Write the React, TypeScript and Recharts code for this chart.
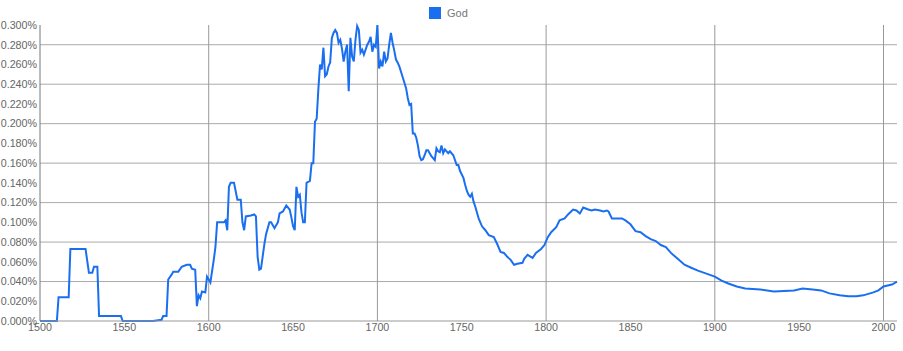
import { LineChart, Line, XAxis, YAxis, ReferenceLine } from 'recharts'

// ngram frequency of "God", in percent
const years = [
  1500, 1510, 1511, 1517, 1518, 1527, 1529, 1531, 1532, 1534, 1535, 1548, 1549, 1567, 1571, 1572, 1573, 1575,
  1576, 1578, 1579, 1582, 1584, 1587, 1589, 1590, 1592, 1593, 1594, 1595, 1596, 1598, 1599, 1600, 1601, 1603,
  1604, 1605, 1609, 1610, 1611, 1612, 1613, 1615, 1617, 1619, 1620, 1621, 1622, 1625, 1627, 1628, 1629, 1630,
  1631, 1633, 1634, 1636, 1637, 1639, 1640, 1641, 1642, 1644, 1646, 1648, 1649, 1650, 1651, 1652, 1653, 1654,
  1655, 1656, 1657, 1658, 1660, 1661, 1662, 1663, 1664, 1665, 1666, 1667, 1668, 1669, 1670, 1671, 1672, 1673,
  1674, 1675, 1676, 1677, 1678, 1679, 1680, 1681, 1682, 1683, 1684, 1685, 1686, 1687, 1688, 1689, 1690, 1691,
  1692, 1693, 1694, 1695, 1696, 1697, 1698, 1699, 1700, 1701, 1702, 1703, 1704, 1705, 1706, 1707, 1708, 1709,
  1710, 1711, 1712, 1713, 1715, 1717, 1718, 1719, 1720, 1721, 1722, 1723, 1724, 1725, 1726, 1727, 1728, 1729,
  1730, 1731, 1732, 1733, 1734, 1735, 1736, 1737, 1738, 1739, 1740, 1741, 1742, 1743, 1745, 1747, 1748, 1749,
  1751, 1752, 1753, 1754, 1755, 1756, 1757, 1758, 1760, 1762, 1764, 1766, 1769, 1771, 1773, 1775, 1777, 1779,
  1781, 1783, 1786, 1787, 1789, 1790, 1792, 1794, 1797, 1799, 1801, 1803, 1806, 1808, 1811, 1813, 1816, 1818,
  1820, 1822, 1825, 1827, 1829, 1832, 1834, 1836, 1837, 1839, 1842, 1845, 1847, 1850, 1853, 1856, 1859, 1862,
  1865, 1868, 1871, 1874, 1878, 1882, 1886, 1890, 1895, 1900, 1904, 1908, 1913, 1918, 1927, 1935, 1947, 1952,
  1958, 1963, 1968, 1974, 1979, 1984, 1988, 1994, 1997, 2000, 2005, 2008,
]
const godValues = [
  0, 0, 0.024, 0.024, 0.073, 0.073, 0.049, 0.049, 0.055, 0.055, 0.005, 0.005, 0, 0, 0.001, 0.001, 0.005, 0.005,
  0.042, 0.047, 0.05, 0.05, 0.055, 0.057, 0.057, 0.053, 0.052, 0.015, 0.026, 0.023, 0.03, 0.029, 0.045, 0.042, 0.039, 0.062,
  0.075, 0.1, 0.1, 0.102, 0.092, 0.136, 0.14, 0.14, 0.123, 0.123, 0.1, 0.092, 0.106, 0.107, 0.108, 0.106, 0.065, 0.052,
  0.053, 0.078, 0.088, 0.1, 0.1, 0.094, 0.097, 0.1, 0.109, 0.111, 0.117, 0.113, 0.105, 0.096, 0.092, 0.136, 0.126, 0.128,
  0.11, 0.1, 0.1, 0.14, 0.142, 0.16, 0.16, 0.202, 0.205, 0.235, 0.26, 0.255, 0.277, 0.248, 0.25, 0.258, 0.262, 0.287,
  0.292, 0.295, 0.292, 0.282, 0.285, 0.276, 0.263, 0.273, 0.28, 0.233, 0.287, 0.268, 0.263, 0.285, 0.299, 0.295, 0.272, 0.275,
  0.27, 0.275, 0.28, 0.283, 0.288, 0.273, 0.28, 0.278, 0.3, 0.256, 0.263, 0.258, 0.273, 0.263, 0.266, 0.28, 0.292, 0.282,
  0.274, 0.265, 0.262, 0.258, 0.247, 0.236, 0.226, 0.219, 0.22, 0.19, 0.19, 0.186, 0.178, 0.167, 0.163, 0.164, 0.168, 0.173,
  0.173, 0.17, 0.167, 0.165, 0.163, 0.175, 0.172, 0.171, 0.178, 0.17, 0.174, 0.172, 0.17, 0.172, 0.168, 0.158, 0.158, 0.152,
  0.145, 0.138, 0.132, 0.128, 0.126, 0.129, 0.121, 0.116, 0.104, 0.096, 0.092, 0.087, 0.085, 0.078, 0.07, 0.069, 0.065, 0.062,
  0.057, 0.058, 0.059, 0.063, 0.067, 0.066, 0.064, 0.069, 0.073, 0.077, 0.085, 0.09, 0.095, 0.102, 0.104, 0.108, 0.113, 0.112,
  0.109, 0.115, 0.113, 0.112, 0.113, 0.112, 0.111, 0.112, 0.111, 0.104, 0.104, 0.104, 0.102, 0.098, 0.091, 0.09, 0.086, 0.083,
  0.081, 0.077, 0.075, 0.069, 0.063, 0.057, 0.054, 0.051, 0.048, 0.045, 0.041, 0.038, 0.035, 0.033, 0.032, 0.03, 0.031, 0.033,
  0.032, 0.031, 0.028, 0.026, 0.025, 0.025, 0.026, 0.029, 0.031, 0.035, 0.037, 0.04,
]

const xTicks = [1500, 1550, 1600, 1650, 1700, 1750, 1800, 1850, 1900, 1950, 2000]
const yTicks = [0, 0.02, 0.04, 0.06, 0.08, 0.1, 0.12, 0.14, 0.16, 0.18, 0.2, 0.22, 0.24, 0.26, 0.28, 0.3]
const xGrid = [1600, 1700, 1800, 1900, 2000]
const yGrid = [0.04, 0.08, 0.12, 0.16, 0.2, 0.24, 0.28]

const BLUE = '#1a6ff0'
const FONT = 'Arial, "Liberation Sans", sans-serif'

const data = years.map((year, i) => ({ year, god: godValues[i] }))

export default function App() {
  return (
    <div style={{ position: 'relative', width: 903, height: 351, fontFamily: FONT }}>
      <style>{'body{margin:0}'}</style>
      {/* legend */}
      <div style={{ position: 'absolute', left: 429, top: 7, display: 'flex', alignItems: 'center', zIndex: 1 }}>
        <span style={{ display: 'inline-block', width: 12, height: 12, background: BLUE }} />
        <span style={{ marginLeft: 6, fontSize: 11, color: '#777', lineHeight: '12px' }}>God</span>
      </div>
      <LineChart width={903} height={351} data={data} margin={{ top: 25, right: 6, left: 0, bottom: 0 }}>
        <XAxis
          dataKey="year"
          type="number"
          domain={[1500, 2008]}
          ticks={xTicks}
          tickLine={false}
          tickSize={0}
          tickMargin={2}
          height={30}
          axisLine={{ stroke: '#999' }}
          tick={{ fontSize: 10.7, fill: '#666', fontFamily: FONT }}
          interval={0}
        />
        <YAxis
          type="number"
          domain={[0, 0.3]}
          ticks={yTicks}
          width={40}
          tickLine={false}
          tickSize={0}
          tickMargin={3}
          axisLine={{ stroke: '#777' }}
          tick={{ fontSize: 10.7, fill: '#666', fontFamily: FONT }}
          tickFormatter={(v: number) => `${v.toFixed(3)}%`}
          interval={0}
        />
        {yGrid.map((v) => (
          <ReferenceLine key={`h${v}`} y={v} stroke="#aaa" />
        ))}
        {xGrid.map((v) => (
          <ReferenceLine key={`v${v}`} x={v} stroke="#999" />
        ))}
        <Line type="linear" dataKey="god" stroke={BLUE} strokeWidth={2} dot={false} isAnimationActive={false} />
      </LineChart>
    </div>
  )
}
